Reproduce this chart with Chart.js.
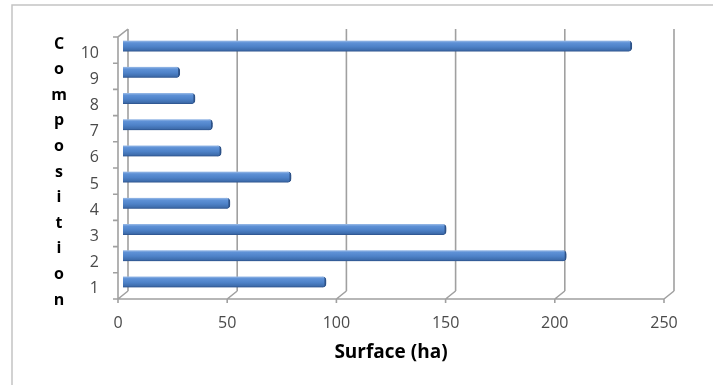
<!DOCTYPE html>
<html>
<head>
<meta charset="utf-8">
<script src="https://cdn.jsdelivr.net/npm/chart.js@4"></script>
<style>
  html, body { margin: 0; padding: 0; background: #ffffff; }
  canvas { display: block; }
</style>
</head>
<body>
<canvas id="chart" width="713" height="385"></canvas>
<script>
// Surface per composition
const categories = ['1', '2', '3', '4', '5', '6', '7', '8', '9', '10'];
const surfaceHa = [93, 203, 148, 49, 77, 45, 41, 33, 26, 233];
const xTickValues = [0, 50, 100, 150, 200, 250];
const yTitleText = 'Composition';
const xTitleText = 'Surface (ha)';

// Depth of the pseudo-3D box (back wall offset from the front plane)
const DEPTH_X = 10;
const DEPTH_Y = 8;
const GRID_COLOR = '#a0a0a0';
const TICK_COLOR = '#4a4a4a';
const TICK_FONT = { family: '"Open Sans", sans-serif', size: 16 };

const boxPlugin = {
  id: 'box3d',
  beforeDraw(chart) {
    const ctx = chart.ctx;
    ctx.save();
    ctx.strokeStyle = '#c4c4c4';
    ctx.lineWidth = 1.5;
    ctx.strokeRect(12, 5, 760, 420);
    ctx.restore();
  },
  beforeDatasetsDraw(chart) {
    const ctx = chart.ctx;
    const a = chart.chartArea;
    const xs = chart.scales.x;
    ctx.save();
    ctx.strokeStyle = GRID_COLOR;
    ctx.lineWidth = 1.6;
    ctx.beginPath();
    xTickValues.forEach(v => {
      const px = xs.getPixelForValue(v);
      // back wall gridline
      ctx.moveTo(px + DEPTH_X, a.top - DEPTH_Y);
      ctx.lineTo(px + DEPTH_X, a.bottom - DEPTH_Y);
      // floor edge from front to back
      ctx.moveTo(px, a.bottom);
      ctx.lineTo(px + DEPTH_X, a.bottom - DEPTH_Y);
      // tick mark below the front axis
      ctx.moveTo(px, a.bottom);
      ctx.lineTo(px, a.bottom + 4);
    });
    // front value axis
    ctx.moveTo(a.left, a.bottom);
    ctx.lineTo(a.right, a.bottom);
    // front category axis and top edge of the side wall
    ctx.moveTo(a.left + DEPTH_X, a.top - DEPTH_Y);
    ctx.lineTo(a.left, a.top);
    ctx.lineTo(a.left, a.bottom);
    // category tick marks
    const n = categories.length;
    for (let i = 0; i <= n; i++) {
      const y = a.top + i * (a.bottom - a.top) / n;
      ctx.moveTo(a.left - 5, y);
      ctx.lineTo(a.left, y);
    }
    ctx.stroke();
    ctx.restore();
    // bars sit half-way into the depth of the box
    ctx.save();
    ctx.translate(DEPTH_X / 2, -DEPTH_Y / 2);
  },
  afterDatasetsDraw(chart) {
    chart.ctx.restore();
  },
  afterDraw(chart) {
    // upright stacked letters for the category axis title
    const ctx = chart.ctx;
    const a = chart.chartArea;
    const letters = Array.from(yTitleText);
    const start = a.top + 7;
    const end = a.bottom + 1;
    const step = (end - start) / (letters.length - 1);
    ctx.save();
    ctx.font = 'bold 16px "Open Sans", sans-serif';
    ctx.fillStyle = '#000000';
    ctx.textAlign = 'center';
    ctx.textBaseline = 'middle';
    letters.forEach((ch, i) => ctx.fillText(ch, 59, start + i * step));
    ctx.restore();
  }
};

function barFill(context) {
  const chart = context.chart;
  const ys = chart.scales.y;
  if (!ys || context.dataIndex === undefined) return '#4f81bd';
  const yc = ys.getPixelForValue(context.dataIndex);
  if (!Number.isFinite(yc)) return '#4f81bd';
  const g = chart.ctx.createLinearGradient(0, yc - 5.5, 0, yc + 5.5);
  g.addColorStop(0, '#9dbde8');
  g.addColorStop(0.2, '#5e91d6');
  g.addColorStop(0.55, '#4e82c8');
  g.addColorStop(0.85, '#3f6eae');
  g.addColorStop(1, '#2b5089');
  return g;
}

new Chart(document.getElementById('chart'), {
  type: 'bar',
  data: {
    labels: categories,
    datasets: [{
      data: surfaceHa,
      backgroundColor: barFill,
      borderColor: '#2d5288',
      borderWidth: { top: 0, bottom: 0, left: 0, right: 2 },
      borderRadius: 4,
      borderSkipped: 'start',
      barThickness: 11,
      clip: false
    }]
  },
  options: {
    indexAxis: 'y',
    responsive: false,
    devicePixelRatio: 1,
    animation: false,
    layout: { padding: { top: 37, right: 49, left: 0, bottom: 0 } },
    plugins: {
      legend: { display: false },
      tooltip: { enabled: false }
    },
    scales: {
      x: {
        type: 'linear',
        min: 0,
        max: 250,
        afterBuildTicks(scale) {
          scale.ticks = xTickValues.map(v => ({ value: v }));
        },
        afterFit(scale) { scale.height = 86; },
        grid: { display: false, drawTicks: false },
        border: { display: false },
        ticks: { padding: 15, color: TICK_COLOR, font: TICK_FONT, maxRotation: 0 },
        title: {
          display: true,
          text: xTitleText,
          color: '#000000',
          font: { family: '"Open Sans", sans-serif', size: 19, weight: 'bold' },
          padding: { top: 0, bottom: 21 }
        }
      },
      y: {
        type: 'category',
        reverse: true,
        afterFit(scale) { scale.width = 118; },
        grid: { display: false, drawTicks: false },
        border: { display: false },
        ticks: { padding: 19, color: TICK_COLOR, font: TICK_FONT, labelOffset: 3 }
      }
    }
  },
  plugins: [boxPlugin]
});
</script>
</body>
</html>
